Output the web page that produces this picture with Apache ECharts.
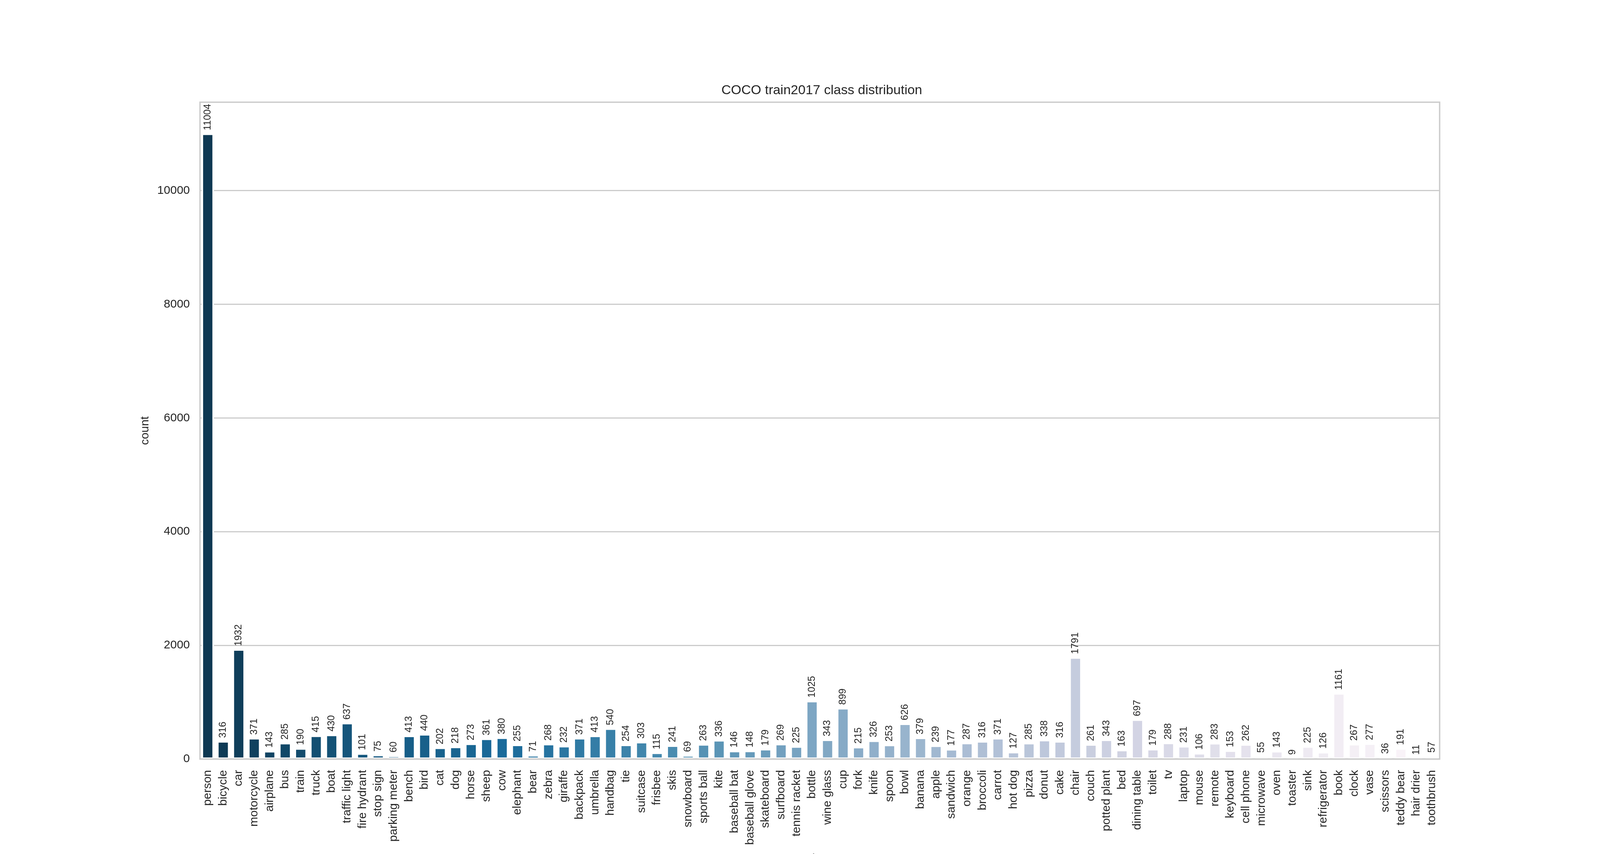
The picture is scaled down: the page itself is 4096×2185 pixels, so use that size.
<!DOCTYPE html>
<html>
<head>
<meta charset="utf-8">
<script src="https://cdn.jsdelivr.net/npm/echarts@6/dist/echarts.min.js"></script>
<style>
html,body{margin:0;padding:0;background:#fff;}
#chart{width:4096px;height:2185px;}
</style>
</head>
<body>
<div id="chart"></div>
<script>
const categories = ["person","bicycle","car","motorcycle","airplane","bus","train","truck","boat","traffic light","fire hydrant","stop sign","parking meter","bench","bird","cat","dog","horse","sheep","cow","elephant","bear","zebra","giraffe","backpack","umbrella","handbag","tie","suitcase","frisbee","skis","snowboard","sports ball","kite","baseball bat","baseball glove","skateboard","surfboard","tennis racket","bottle","wine glass","cup","fork","knife","spoon","bowl","banana","apple","sandwich","orange","broccoli","carrot","hot dog","pizza","donut","cake","chair","couch","potted plant","bed","dining table","toilet","tv","laptop","mouse","remote","keyboard","cell phone","microwave","oven","toaster","sink","refrigerator","book","clock","vase","scissors","teddy bear","hair drier","toothbrush"];
const counts = [11004,316,1932,371,143,285,190,415,430,637,101,75,60,413,440,202,218,273,361,380,255,71,268,232,371,413,540,254,303,115,241,69,263,336,146,148,179,269,225,1025,343,899,215,326,253,626,379,239,177,287,316,371,127,285,338,316,1791,261,343,163,697,179,288,231,106,283,153,262,55,143,9,225,126,1161,267,277,36,191,11,57];
const yTicks = [0,2000,4000,6000,8000,10000];
const titleText = "COCO train2017 class distribution";
const yName = "count";
const xName = "class";

// PuBu_r palette (seaborn style sampling, desaturated 0.75)
const PUBU = [[255,247,251],[236,231,242],[208,209,230],[166,189,219],[116,169,207],[54,144,192],[5,112,176],[4,90,141],[2,56,88]];
function pubuAt(x){
  const s = x*8; const j = Math.min(7, Math.floor(s)); const t = s - j;
  return [0,1,2].map(c => (PUBU[j][c]*(1-t) + PUBU[j+1][c]*t)/255);
}
function rgb2hls(r,g,b){
  const mx=Math.max(r,g,b), mn=Math.min(r,g,b); const l=(mx+mn)/2;
  if(mx===mn) return [0,l,0];
  const s = l<=0.5 ? (mx-mn)/(mx+mn) : (mx-mn)/(2-mx-mn);
  const rc=(mx-r)/(mx-mn), gc=(mx-g)/(mx-mn), bc=(mx-b)/(mx-mn);
  let h; if(r===mx) h=bc-gc; else if(g===mx) h=2+rc-bc; else h=4+gc-rc;
  h=((h/6)%1+1)%1; return [h,l,s];
}
function v_(m1,m2,h){ h=((h%1)+1)%1; if(h<1/6) return m1+(m2-m1)*h*6; if(h<0.5) return m2; if(h<2/3) return m1+(m2-m1)*(2/3-h)*6; return m1; }
function hls2rgb(h,l,s){
  if(s===0) return [l,l,l];
  const m2 = l<=0.5 ? l*(1+s) : l+s-l*s; const m1 = 2*l-m2;
  return [v_(m1,m2,h+1/3), v_(m1,m2,h), v_(m1,m2,h-1/3)];
}
const n = categories.length;
const colors = [];
for(let i=1;i<=n;i++){
  const x = i/(n+1);
  let k = Math.floor(x*256); if(k>255) k=255;
  const rgb = pubuAt((255-k)/255);
  const hls = rgb2hls(rgb[0],rgb[1],rgb[2]);
  const out = hls2rgb(hls[0],hls[1],hls[2]*0.75);
  colors.push('rgb('+out.map(v=>Math.round(v*255)).join(',')+')');
}

const txt = '#262626';
const font = 'Liberation Sans, Arial, sans-serif';
const gridLeft = 512, gridRight = 410.5;
const chart = echarts.init(document.getElementById('chart'));
chart.setOption({
  backgroundColor: '#ffffff',
  animation: false,
  title: {
    text: titleText, left: (gridLeft + (4096 - gridRight)) / 2, textAlign: 'center', top: 210,
    textStyle: {fontFamily: font, fontSize: 34, fontWeight: 'normal', color: txt}
  },
  grid: {
    left: gridLeft, right: gridRight, top: 261.5, bottom: 243,
    show: true, borderColor: '#cccccc', borderWidth: 3.5, backgroundColor: 'transparent',
    outerBoundsMode: 'none', containLabel: false
  },
  xAxis: {
    type: 'category', data: categories, z: 5,
    boundaryGap: true,
    axisLine: {show: true, lineStyle: {color: '#cccccc', width: 3.5}},
    axisTick: {show: false},
    axisLabel: {interval: 0, rotate: 90, margin: 28, fontFamily: font, fontSize: 30, color: txt},
    splitLine: {show: false},
    name: xName, nameLocation: 'middle', nameGap: 241,
    nameTextStyle: {fontFamily: font, fontSize: 30, color: txt}
  },
  yAxis: {
    type: 'value', min: 0, max: 11554.2, interval: 2000,
    axisLine: {show: false}, axisTick: {show: false},
    axisLabel: {margin: 26, fontFamily: font, fontSize: 30, color: txt, showMaxLabel: false,
      formatter: v => (yTicks.indexOf(v) >= 0 ? String(v) : '')},
    splitLine: {show: true, lineStyle: {color: '#cccccc', width: 2.8}},
    name: yName, nameLocation: 'middle', nameGap: 125,
    nameTextStyle: {fontFamily: font, fontSize: 30, color: txt}
  },
  series: [{
    type: 'bar',
    barWidth: '80%',
    data: counts.map((v,i) => ({value: v, itemStyle: {color: colors[i]}})),
    itemStyle: {borderColor: '#ffffff', borderWidth: 4},
    label: {
      show: true, position: 'top', rotate: 90, align: 'left', verticalAlign: 'middle',
      distance: 8, fontFamily: font, fontSize: 25, color: txt,
      formatter: p => String(p.value)
    }
  }]
});
</script>
</body>
</html>
